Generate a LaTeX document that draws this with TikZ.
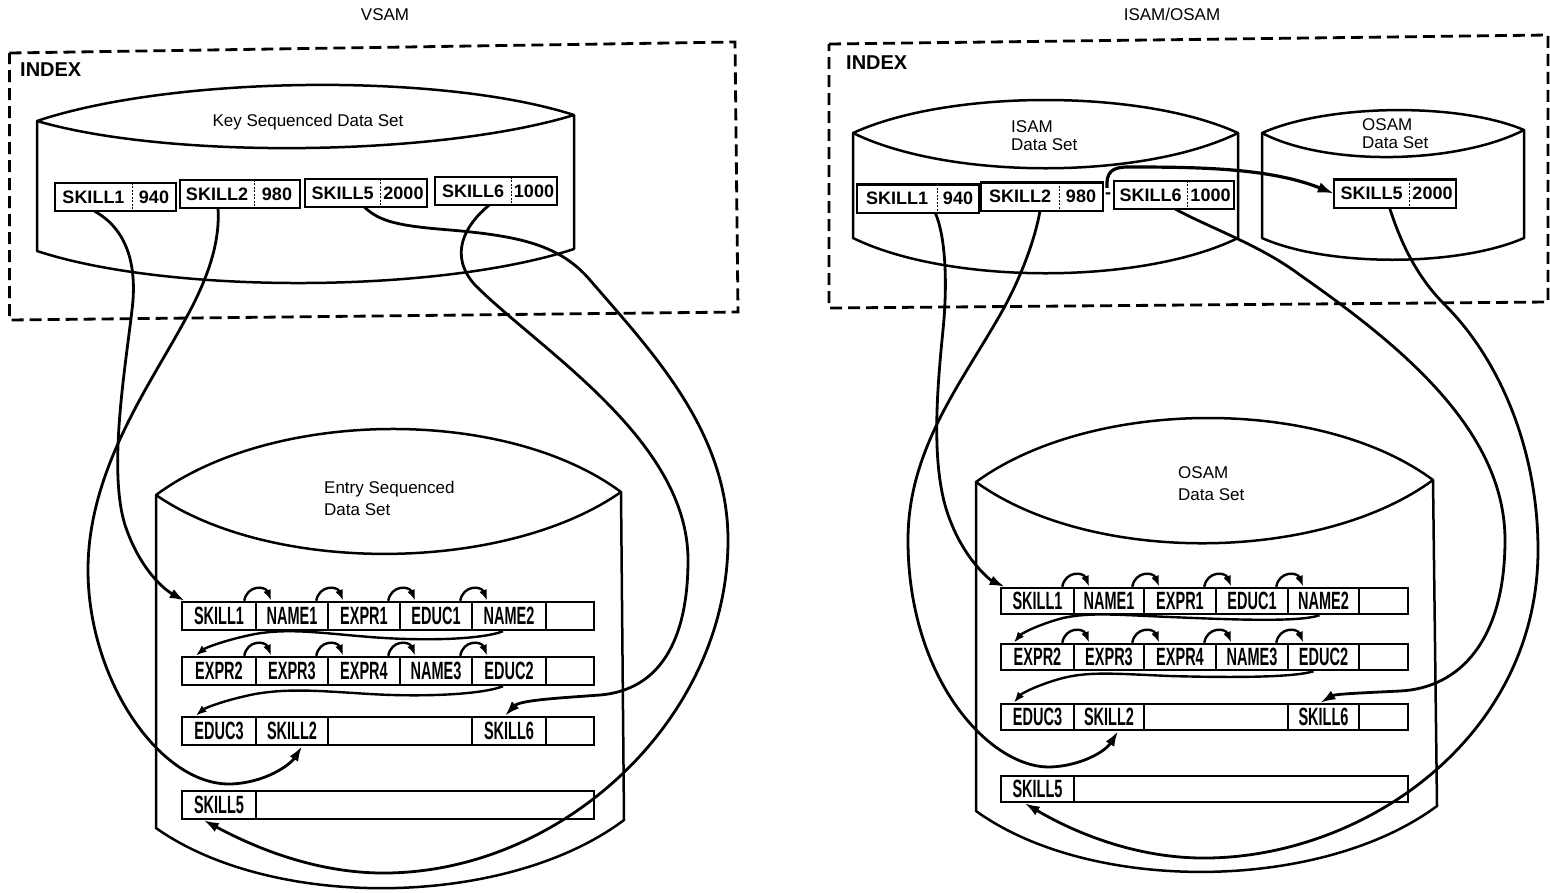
\documentclass[tikz,border=0pt]{standalone}
\usepackage{fontspec}
\setmainfont{Liberation Sans}
\newfontfamily\cellfont[FakeStretch=0.58]{Liberation Sans}
\usetikzlibrary{arrows.meta,calc}
\begin{document}
\begin{tikzpicture}[x=1pt,y=-1pt,
  frame/.style={line width=2.8pt, dash pattern=on 12pt off 6pt},
  cylline/.style={line width=2.5pt, line join=round},
  rcell/.style={draw, line width=2.5pt, inner sep=0pt, minimum height=28pt, font=\cellfont\bfseries\fontsize{25pt}{27pt}\selectfont},
  rcellr/.style={rcell, minimum height=26pt},
  ikey/.style={inner sep=0pt, minimum height=28pt, font=\bfseries\fontsize{18pt}{20pt}\selectfont},
  pframe/.style={line width=2.4pt},
  pdiv/.style={line width=1pt, dash pattern=on 2pt off 1.5pt},
  conn/.style={line width=2.8pt, -{Latex[length=15pt,width=10pt]}},
  hop/.style={line width=2.4pt, -{Latex[length=11pt,width=8pt]}},
  bigarr/.style={line width=3.2pt, -{Latex[length=16pt,width=11pt]}},
  lbl/.style={font=\fontsize{17pt}{20pt}\selectfont, inner sep=0pt},
  lbl2/.style={font=\fontsize{17pt}{22pt}\selectfont, inner sep=0pt, align=left, anchor=west},
  lbl3/.style={font=\fontsize{17pt}{18.5pt}\selectfont, inner sep=0pt, align=left, anchor=west},
  idx/.style={font=\bfseries\fontsize{20pt}{22pt}\selectfont, inner sep=0pt, anchor=west}
]
\useasboundingbox (0,0) rectangle (1550,892);

% ---------------- titles ----------------
\node[lbl] (vsamT) at (385,15) {VSAM};
\node[lbl] (isamT) at (1172,14) {ISAM/OSAM};

% ---------------- dashed index frames ----------------
\draw[frame] (9.5,53) -- (735,42) -- (738,312) -- (9.5,320) -- cycle;
\draw[frame] (829,44) -- (1548,35) -- (1548,302) -- (829,308) -- cycle;
\node[idx] (idxL) at (20,70) {INDEX};
\node[idx] (idxR) at (846,63) {INDEX};

% ---------------- cylinders ----------------
% KSDS
\draw[cylline] (37,121) .. controls (171,76) and (440,72) .. (574,115) -- (574,249)
   .. controls (440,293) and (171,295) .. (37,251) -- cycle;
\draw[cylline] (37,121) .. controls (171,160) and (440,156) .. (574,115);
% ESDS
\draw[cylline] (156,495) .. controls (272,409) and (505,406) .. (621,492) -- (624,820)
   .. controls (507,908) and (273,911) .. (156,828) -- cycle;
\draw[cylline] (156,495) .. controls (272,575) and (505,573) .. (621,492);
% ISAM
\draw[cylline] (853,133) .. controls (949,89) and (1142,89) .. (1238,133) -- (1238,238)
   .. controls (1142,285) and (949,285) .. (853,238) -- cycle;
\draw[cylline] (853,133) .. controls (949,180) and (1142,180) .. (1238,133);
% OSAM (index)
\draw[cylline] (1262,133) .. controls (1327,104) and (1458,102) .. (1524,130) -- (1524,238)
   .. controls (1458,267) and (1327,267) .. (1262,238) -- cycle;
\draw[cylline] (1262,133) .. controls (1327,167) and (1458,164) .. (1524,130);
% OSAM data set
\draw[cylline] (976,482) .. controls (1091,398) and (1320,396) .. (1433,480) -- (1437,806)
   .. controls (1321,892) and (1091,894) .. (976,811) -- cycle;
\draw[cylline] (976,482) .. controls (1091,565) and (1320,563) .. (1433,480);

% ---------------- cylinder labels ----------------
\node[lbl] (ksdsL) at (308,122) {Key Sequenced Data Set};
\node[lbl2] (esdsL) at (324,498) {Entry Sequenced\\Data Set};
\node[lbl3] (isamL) at (1011,135.5) {ISAM\\Data Set};
\node[lbl3] (osamL) at (1362,133.5) {OSAM\\Data Set};
\node[lbl2] (osamD) at (1178,484) {OSAM\\Data Set};

% ---------------- index key pairs (VSAM) ----------------
\node[ikey, minimum width=77pt] (p1k) at (93.5,197) {SKILL1};
\node[ikey, minimum width=44pt] (p1v) at (154,197) {940};
\node[ikey, minimum width=74pt] (p2k) at (217,194) {SKILL2};
\node[ikey, minimum width=46pt] (p2v) at (277,194) {980};
\node[ikey, minimum width=75pt] (p3k) at (342.5,193) {SKILL5};
\node[ikey, minimum width=47pt] (p3v) at (403.5,193) {2000};
\node[ikey, minimum width=76pt] (p4k) at (473,191) {SKILL6};
\node[ikey, minimum width=46pt] (p4v) at (534,191) {1000};
% ---------------- index key pairs (ISAM/OSAM) ----------------
\node[ikey, minimum width=80pt] (q1k) at (897,198.5) {SKILL1};
\node[ikey, minimum width=42pt] (q1v) at (958,198.5) {940};
\node[ikey, minimum width=78pt] (q2k) at (1020,196.5) {SKILL2};
\node[ikey, minimum width=44pt] (q2v) at (1081,196.5) {980};
\node[ikey, minimum width=73pt] (q3k) at (1150.5,195) {SKILL6};
\node[ikey, minimum width=47pt] (q3v) at (1210.5,195) {1000};
\node[ikey, minimum width=75pt] (q4k) at (1371.5,193.5) {SKILL5};
\node[ikey, minimum width=47pt] (q4v) at (1432.5,193.5) {2000};
\node[ikey, minimum height=6pt] (dsh) at (1108,196) {-};

\foreach \k/\v in {p1k/p1v,p2k/p2v,p3k/p3v,p4k/p4v,q1k/q1v,q2k/q2v,q3k/q3v,q4k/q4v}{
  \draw[pframe] (\k.north west) rectangle (\v.south east);
  \draw[pdiv] (\k.north east) -- (\k.south east);
}

% ---------------- ESDS rows ----------------
\node[rcell, minimum width=74pt] (l11) at (219,616) {SKILL1};
\node[rcell, minimum width=72pt] (l12) at (292,616) {NAME1};
\node[rcell, minimum width=72pt] (l13) at (364,616) {EXPR1};
\node[rcell, minimum width=72pt] (l14) at (436,616) {EDUC1};
\node[rcell, minimum width=74pt] (l15) at (509,616) {NAME2};
\node[rcell, minimum width=48pt] (l16) at (570,616) {};
\node[rcell, minimum width=74pt] (l21) at (219,671) {EXPR2};
\node[rcell, minimum width=72pt] (l22) at (292,671) {EXPR3};
\node[rcell, minimum width=72pt] (l23) at (364,671) {EXPR4};
\node[rcell, minimum width=72pt] (l24) at (436,671) {NAME3};
\node[rcell, minimum width=74pt] (l25) at (509,671) {EDUC2};
\node[rcell, minimum width=48pt] (l26) at (570,671) {};
\node[rcell, minimum width=74pt] (l31) at (219,731) {EDUC3};
\node[rcell, minimum width=72pt] (l32) at (292,731) {SKILL2};
\node[rcell, minimum width=144pt] (l33) at (400,731) {};
\node[rcell, minimum width=74pt] (l34) at (509,731) {SKILL6};
\node[rcell, minimum width=48pt] (l35) at (570,731) {};
\node[rcell, minimum width=74pt] (l41) at (219,805) {SKILL5};
\node[rcell, minimum width=338pt] (l42) at (425,805) {};

% ---------------- OSAM data rows ----------------
\node[rcellr, minimum width=73pt] (r11) at (1037.5,601) {SKILL1};
\node[rcellr, minimum width=70pt] (r12) at (1109,601) {NAME1};
\node[rcellr, minimum width=72pt] (r13) at (1180,601) {EXPR1};
\node[rcellr, minimum width=72pt] (r14) at (1252,601) {EDUC1};
\node[rcellr, minimum width=71pt] (r15) at (1323.5,601) {NAME2};
\node[rcellr, minimum width=49pt] (r16) at (1383.5,601) {};
\node[rcellr, minimum width=73pt] (r21) at (1037.5,657) {EXPR2};
\node[rcellr, minimum width=70pt] (r22) at (1109,657) {EXPR3};
\node[rcellr, minimum width=72pt] (r23) at (1180,657) {EXPR4};
\node[rcellr, minimum width=72pt] (r24) at (1252,657) {NAME3};
\node[rcellr, minimum width=71pt] (r25) at (1323.5,657) {EDUC2};
\node[rcellr, minimum width=49pt] (r26) at (1383.5,657) {};
\node[rcellr, minimum width=73pt] (r31) at (1037.5,717) {EDUC3};
\node[rcellr, minimum width=70pt] (r32) at (1109,717) {SKILL2};
\node[rcellr, minimum width=144pt] (r33) at (1216,717) {};
\node[rcellr, minimum width=71pt] (r34) at (1323.5,717) {SKILL6};
\node[rcellr, minimum width=49pt] (r35) at (1383.5,717) {};
\node[rcellr, minimum width=73pt] (r41) at (1037.5,789) {SKILL5};
\node[rcellr, minimum width=334pt] (r42) at (1241,789) {};

% ---------------- hops within rows ----------------
\foreach \c in {l11,l12,l13,l14,l21,l22,l23,l24,r11,r12,r13,r14,r21,r22,r23,r24}{
  \draw[hop] ($(\c.north east)+(-13,0)$) .. controls +(3,-16) and +(-6,-15) .. ($(\c.north east)+(14,0)$);
}

% ---------------- row to row ----------------
\draw[hop] ($(l15.south)+(-6,0)$) .. controls (480,640) and (420,641) .. (370,637)
   .. controls (320,633) and (290,628) .. (255,634)
   .. controls (225,640) and (205,648) .. ($(l21.north west)+(15,0)$);
\draw[hop] ($(l25.south)+(-6,0)$) .. controls (480,695) and (420,697) .. (370,694)
   .. controls (320,691) and (290,688) .. (255,694)
   .. controls (225,700) and (205,708) .. ($(l31.north west)+(15,0)$);
\draw[hop] ($(r15.south)+(-4,0)$) .. controls (1300,622) and (1240,620) .. (1170,617)
   .. controls (1120,615) and (1090,612) .. (1063,618)
   .. controls (1040,624) and (1022,633) .. ($(r21.north west)+(14,0)$);
\draw[hop] ($(r25.south)+(-10,0)$) .. controls (1295,677) and (1240,678) .. (1170,676)
   .. controls (1120,674) and (1090,671) .. (1063,678)
   .. controls (1040,684) and (1022,693) .. ($(r31.north west)+(14,0)$);

% ---------------- VSAM long connectors ----------------
\draw[conn] ($(p1k.south)+(1,0)$) .. controls (125,228) and (138,262) .. (132,310)
   .. controls (125,370) and (108,470) .. (125,525)
   .. controls (140,570) and (165,590) .. ($(l11.north west)+(4,0)$);
\draw[conn] ($(p2k.south)+(1,0)$) .. controls (220,240) and (210,275) .. (185,320)
   .. controls (150,385) and (88,470) .. (88,570)
   .. controls (88,680) and (160,785) .. (230,784)
   .. controls (265,783) and (290,765) .. ($(l32.south)+(10,0)$);
\draw[conn] ($(p3k.south)+(22,0)$) .. controls (380,222) and (400,226) .. (450,230)
   .. controls (520,236) and (560,245) .. (590,280)
   .. controls (650,350) and (728,430) .. (728,540)
   .. controls (728,720) and (560,875) .. (380,873)
   .. controls (310,872) and (250,845) .. ($(l41.south west)+(23,0)$);
\draw[conn] ($(p4k.south)+(16,0)$) .. controls (465,225) and (448,255) .. (475,285)
   .. controls (540,350) and (688,440) .. (688,560)
   .. controls (688,640) and (660,690) .. (600,695)
   .. controls (560,698) and (520,700) .. ($(l34.north)+(-4,0)$);

% ---------------- ISAM/OSAM long connectors ----------------
\draw[conn] ($(q1k.south east)+(-2,0)$) .. controls (945,235) and (948,280) .. (943,330)
   .. controls (937,390) and (930,470) .. (950,520)
   .. controls (965,560) and (990,580) .. ($(r11.north west)+(5,0)$);
\draw[conn] ($(q2k.south)+(20,0)$) .. controls (1035,240) and (1020,280) .. (1000,315)
   .. controls (960,385) and (908,450) .. (908,540)
   .. controls (908,680) and (990,768) .. (1050,767)
   .. controls (1080,766) and (1105,752) .. ($(r32.south)+(9,0)$);
\draw[conn] ($(q3k.south)+(25,0)$) .. controls (1210,228) and (1260,245) .. (1300,275)
   .. controls (1400,345) and (1505,430) .. (1505,540)
   .. controls (1505,640) and (1460,688) .. (1400,691)
   .. controls (1360,693) and (1335,694) .. ($(r34.north)+(-3,0)$);
\draw[conn] ($(q4k.south)+(18,0)$) .. controls (1400,240) and (1415,275) .. (1445,305)
   .. controls (1500,360) and (1538,450) .. (1538,550)
   .. controls (1538,740) and (1360,860) .. (1200,858)
   .. controls (1130,857) and (1070,830) .. ($(r41.south west)+(25,0)$);

% ---------------- ISAM -> OSAM overflow pointer ----------------
\draw[bigarr] ($(dsh.north)+(-1,-5)$) .. controls (1106,172) and (1112,167) .. (1128,167)
   .. controls (1200,167) and (1270,168) .. (q4k.west);
\end{tikzpicture}
\end{document}
